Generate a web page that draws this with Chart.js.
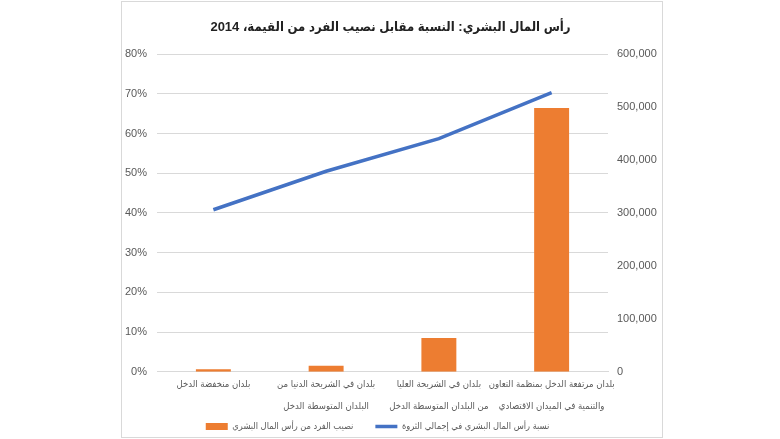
<!DOCTYPE html>
<html>
<head>
<meta charset="utf-8">
<script src="https://cdn.jsdelivr.net/npm/chart.js@4.4.1/dist/chart.umd.min.js"></script>
<style>
    html, body { margin: 0; padding: 0; background: #fff; }
    #wrap { position: relative; width: 780px; height: 439px; }
    #myChart { display: block; }
    #frame { position: absolute; left: 121px; top: 1px; width: 540px; height: 435px; border: 1px solid #d9d9d9; pointer-events: none; }
</style>
</head>
<body>
<div id="wrap">
    <canvas id="myChart" width="780" height="439"></canvas>
    <div id="frame"></div>
</div>
<script>
// data
const categories = [
    'بلدان منخفضة الدخل',
    ['بلدان في الشريحة الدنيا من', 'البلدان المتوسطة الدخل'],
    ['بلدان في الشريحة العليا', 'من البلدان المتوسطة الدخل'],
    ['بلدان مرتفعة الدخل بمنظمة التعاون', 'والتنمية في الميدان الاقتصادي']
];
const perCapitaValues = [5000, 11500, 64000, 498000];   // right axis
const shareValues = [40.8, 50.5, 58.7, 70.3];           // left axis, %
const barLabel = 'نصيب الفرد من رأس المال البشري';
const lineLabel = 'نسبة رأس المال البشري في إجمالي الثروة';
const titleText = 'رأس المال البشري: النسبة مقابل نصيب الفرد من القيمة، 2014';

const tickFont = { family: '"Liberation Sans Narrow", "Liberation Sans", Arial, sans-serif', size: 11 };
const arFamily = 'Arial, "DejaVu Sans Condensed", "DejaVu Sans", sans-serif';

// nudge the legend a bit left/down like the original
const legendNudge = {
    id: 'legendNudge',
    afterLayout(chart) {
        const lg = chart.legend;
        lg.left -= 13; lg.right -= 13;
        lg.top += 2; lg.bottom += 2;
    }
};

const ctx = document.getElementById('myChart').getContext('2d');
const myChart = new Chart(ctx, {
    type: 'bar',
    data: {
        labels: categories,
        datasets: [{
            label: barLabel,
            data: perCapitaValues,
            yAxisID: 'y1',
            backgroundColor: '#ED7D31',
            borderWidth: 0,
            pointStyle: 'rect',
            categoryPercentage: 1,
            barPercentage: 0.31
        }, {
            type: 'line',
            label: lineLabel,
            data: shareValues,
            yAxisID: 'y',
            borderColor: '#4472C4',
            backgroundColor: '#4472C4',
            borderWidth: 3.5,
            pointRadius: 0,
            pointStyle: 'line',
            tension: 0
        }]
    },
    plugins: [legendNudge],
    options: {
        responsive: false,
        animation: false,
        layout: {
            padding: { left: 121, right: 120, top: 0, bottom: 0 }
        },
        plugins: {
            title: {
                display: true,
                text: titleText,
                color: '#222',
                font: { family: arFamily, size: 13, weight: 'bold', lineHeight: 1.2 },
                padding: { top: 20, bottom: 18.5 }
            },
            legend: {
                position: 'bottom',
                labels: {
                    usePointStyle: true,
                    pointStyleWidth: 22,
                    boxHeight: 7,
                    padding: 22,
                    color: '#595959',
                    font: { family: arFamily, size: 9.2 }
                }
            },
            tooltip: { enabled: false }
        },
        scales: {
            x: {
                grid: { display: false, drawTicks: false },
                border: { color: '#d9d9d9' },
                ticks: {
                    color: '#595959',
                    font: { family: arFamily, size: 9.5, lineHeight: 2.3 },
                    maxRotation: 0,
                    autoSkip: false,
                    padding: 2
                },
                // second label line runs into the legend band, so keep it unclipped
                afterFit: s => { s.height = 26; s._computeLabelArea = () => null; }
            },
            y: {
                position: 'left',
                min: 0,
                max: 80,
                grid: { color: '#d9d9d9', drawTicks: false },
                border: { display: false },
                ticks: {
                    stepSize: 10,
                    color: '#595959',
                    font: tickFont,
                    padding: 10,
                    callback: v => v + '%'
                },
                afterFit: s => { s.width = 36; }
            },
            y1: {
                position: 'right',
                min: 0,
                max: 600000,
                grid: { display: false, drawTicks: false },
                border: { display: false },
                ticks: {
                    stepSize: 100000,
                    color: '#595959',
                    font: tickFont,
                    padding: 9,
                    callback: v => v.toLocaleString('en-US')
                },
                afterFit: s => { s.width = 52; }
            }
        }
    }
});
</script>
</body>
</html>
